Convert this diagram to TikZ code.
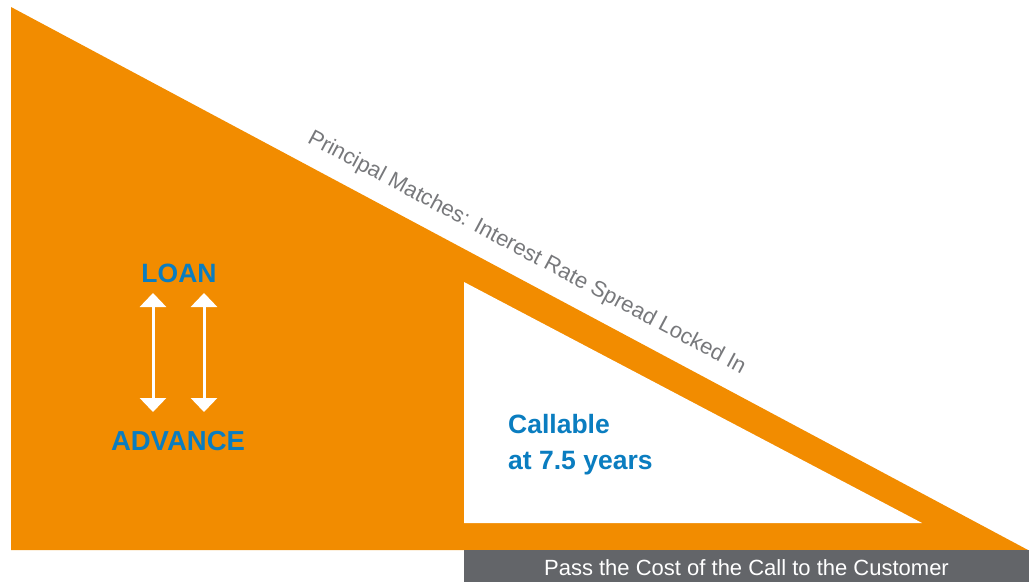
\documentclass[tikz,border=0pt]{standalone}
\usepackage{fontspec}
\setmainfont{Liberation Sans}
\usetikzlibrary{arrows.meta}
\definecolor{orng}{HTML}{F28C00}
\definecolor{blu}{HTML}{0A7DC0}
\definecolor{barg}{HTML}{636569}
\definecolor{txtg}{HTML}{77787B}
\tikzset{
  bluelabel/.style={text=blu,font=\fontsize{26.5}{30}\selectfont\bfseries,inner sep=0pt},
  lighttext/.style={font=\fontsize{22}{26}\selectfont,inner sep=0pt},
  dblarrow/.style={draw=white,line width=3pt,{Triangle[width=26pt,length=14pt]}-{Triangle[width=26pt,length=14pt]}}
}
\begin{document}
\begin{tikzpicture}[x=1pt,y=-1pt]
\useasboundingbox (0,0) rectangle (1029,582);
% outer orange triangle
\coordinate (A) at (11,7);
\coordinate (B) at (11,550);
\coordinate (C) at (1028,550);
\fill[orng] (A) -- (B) -- (C) -- cycle;
% inner white triangle
\fill[white] (464,282) -- (464,523) -- (922,523) -- cycle;
% gray bar
\fill[barg] (464,550) rectangle (1029,582);
\node[lighttext,text=white,anchor=base] (bar) at (746.5,575) {Pass the Cost of the Call to the Customer};
% hypotenuse label
\node[lighttext,text=txtg,anchor=base,rotate=-28.06] (hyp) at (524,258) {Principal Matches: Interest Rate Spread Locked In};
% loan / advance
\node[bluelabel,anchor=base] (loan) at (179,282) {LOAN};
\node[bluelabel,font=\fontsize{27.5}{30}\selectfont\bfseries,anchor=base] (adv) at (178,450) {ADVANCE};
\coordinate (l1) at (153,293);
\coordinate (l2) at (153,412);
\coordinate (r1) at (204,293);
\coordinate (r2) at (204,412);
\draw[dblarrow] (l1) -- (l2);
\draw[dblarrow] (r1) -- (r2);
% callable
\node[bluelabel,anchor=base west] (c1) at (508,433) {Callable};
\node[bluelabel,anchor=base west] (c2) at (508,469) {at 7.5 years};
\end{tikzpicture}
\end{document}
